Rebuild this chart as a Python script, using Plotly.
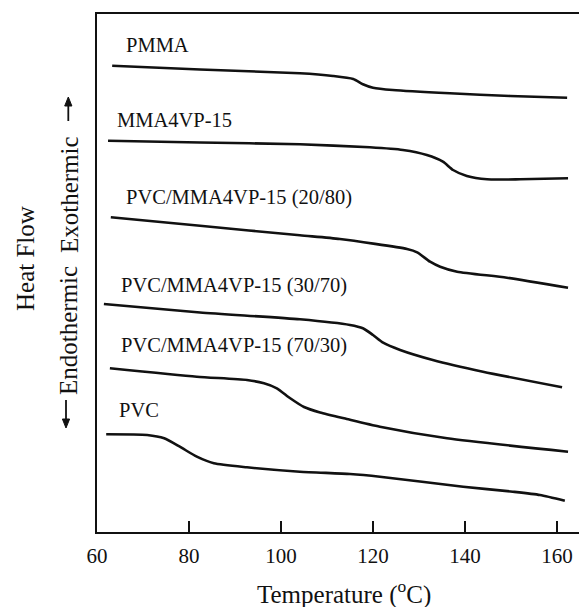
import plotly.graph_objects as go

# ---------------- data (temperature in °C, heat flow in arbitrary units) ----------------
series_names = ["PMMA", "MMA4VP-15", "PVC/MMA4VP-15 (20/80)",
                "PVC/MMA4VP-15 (30/70)", "PVC/MMA4VP-15 (70/30)", "PVC"]

temp_pmma = [63.3, 82.4, 104.1, 111.3, 115.7, 117.8, 120.0, 124.3, 136.7, 149.8, 162.2]
hf_pmma = [93.26, 92.5, 91.74, 91.2, 90.6, 89.54, 88.86, 88.4, 87.74, 87.2, 86.86]

temp_mma4vp = [62.4, 82.4, 104.1, 119.3, 126.5, 131.7, 135.2, 137.4, 140.4, 144.8, 152.0, 162.4]
hf_mma4vp = [78.26, 77.9, 77.54, 76.94, 76.4, 75.4, 74.06, 72.4, 71.2, 70.54, 70.54, 70.74]

temp_2080 = [63.0, 82.4, 104.1, 112.8, 127.4, 129.6, 132.4, 134.6, 138.3, 149.1, 162.4]
hf_2080 = [62.94, 61.24, 59.34, 58.6, 56.6, 55.94, 54.06, 53.06, 52.06, 50.86, 48.86]

temp_3070 = [61.5, 82.4, 104.1, 115.0, 117.8, 120.0, 122.2, 125.9, 133.0, 143.9, 161.1]
hf_3070 = [45.6, 43.9, 42.54, 41.4, 40.74, 39.4, 37.86, 36.4, 34.4, 32.06, 28.94]

temp_7030 = [62.8, 81.7, 92.6, 96.3, 99.1, 102.0, 105.0, 108.5, 114.3, 121.5, 136.1, 162.4]
hf_7030 = [32.74, 31.06, 30.4, 29.74, 28.74, 26.74, 25.0, 23.9, 22.6, 21.06, 18.74, 16.06]

temp_pvc = [62.0, 70.9, 74.6, 78.0, 81.7, 85.4, 92.6, 104.1, 115.0, 121.5, 139.6, 150.4, 156.3, 161.7]
hf_pvc = [19.54, 19.4, 18.74, 17.06, 15.06, 13.74, 12.94, 12.06, 11.6, 11.06, 9.06, 8.06, 7.4, 6.26]

x_ticks = [60, 80, 100, 120, 140, 160]

temps = [temp_pmma, temp_mma4vp, temp_2080, temp_3070, temp_7030, temp_pvc]
flows = [hf_pmma, hf_mma4vp, hf_2080, hf_3070, hf_7030, hf_pvc]

# ---------------- layout ----------------
W, H = 579, 607
ML, MR, MT, MB = 97, 0, 14, 75
PW, PH = W - ML - MR, H - MT - MB
FONT = "Liberation Serif, Times New Roman, serif"
INK = "#111111"


def px_to_paper(px, py):
    return (px - ML) / PW, (H - MB - py) / PH


fig = go.Figure()
for t, f, name in zip(temps, flows, series_names):
    fig.add_trace(go.Scatter(x=t, y=f, mode="lines", name=name,
                             line=dict(color=INK, width=2.6, shape="spline", smoothing=0.6)))

# series labels: (left edge temperature, heat-flow level) — layout placement
label_pos = [(65.9, 97.4), (63.9, 82.4), (65.9, 67.0), (64.8, 49.4), (64.8, 37.4), (64.3, 24.4)]
for name, (lx, ly) in zip(series_names, label_pos):
    fig.add_annotation(x=lx, y=ly, xref="x", yref="y", text=name, showarrow=False,
                       xanchor="left", yanchor="middle",
                       font=dict(family=FONT, size=20.5, color=INK))

# axis title
tx, ty = px_to_paper(344, 592)
fig.add_annotation(x=tx, y=ty, xref="paper", yref="paper",
                   text="Temperature (<sup>o</sup>C)", showarrow=False,
                   xanchor="center", yanchor="middle",
                   font=dict(family=FONT, size=25, color=INK))

# y titles
hx, hy = px_to_paper(25, 259)
fig.add_annotation(x=hx, y=hy, xref="paper", yref="paper", text="Heat Flow",
                   textangle=-90, showarrow=False, xanchor="center", yanchor="middle",
                   font=dict(family=FONT, size=25, color=INK))
ex, ey = px_to_paper(70, 195)
fig.add_annotation(x=ex, y=ey, xref="paper", yref="paper", text="Exothermic",
                   textangle=-90, showarrow=False, xanchor="center", yanchor="middle",
                   font=dict(family=FONT, size=25, color=INK))
nx, ny = px_to_paper(68, 331)
fig.add_annotation(x=nx, y=ny, xref="paper", yref="paper", text="Endothermic",
                   textangle=-90, showarrow=False, xanchor="center", yanchor="middle",
                   font=dict(family=FONT, size=25, color=INK))


# arrows drawn as shapes (shaft + filled head)
def add_arrow(xc, y_tail, y_tip, head_len=9, half_w=3.6):
    sgn = 1 if y_tip > y_tail else -1
    y_base = y_tip - sgn * head_len
    x0, y0 = px_to_paper(xc, y_tail)
    x1, y1 = px_to_paper(xc, y_base)
    fig.add_shape(type="line", xref="paper", yref="paper", x0=x0, y0=y0, x1=x1, y1=y1,
                  line=dict(color=INK, width=1.8))
    pa = px_to_paper(xc - half_w, y_base)
    pb = px_to_paper(xc + half_w, y_base)
    pt = px_to_paper(xc, y_tip)
    path = f"M {pa[0]} {pa[1]} L {pb[0]} {pb[1]} L {pt[0]} {pt[1]} Z"
    fig.add_shape(type="path", xref="paper", yref="paper", path=path,
                  fillcolor=INK, line=dict(color=INK, width=1))


add_arrow(68.3, 121, 97)
add_arrow(66, 400, 428)

fig.update_layout(
    width=W, height=H,
    margin=dict(l=ML, r=MR, t=MT, b=MB, pad=0),
    paper_bgcolor="white", plot_bgcolor="white",
    showlegend=False,
    font=dict(family=FONT, color=INK),
    xaxis=dict(range=[60, 60 + PW / 4.6], tickvals=x_ticks, ticks="inside",
               ticklen=11, tickwidth=2, tickcolor=INK,
               showline=True, linewidth=2, linecolor=INK, mirror=True,
               showgrid=False, zeroline=False, ticklabelstandoff=4,
               tickfont=dict(family=FONT, size=21, color=INK)),
    yaxis=dict(range=[0, PH / 5], showline=True, linewidth=2, linecolor=INK,
               showticklabels=False, ticks="", showgrid=False, zeroline=False),
)

fig.write_html("out.html")
